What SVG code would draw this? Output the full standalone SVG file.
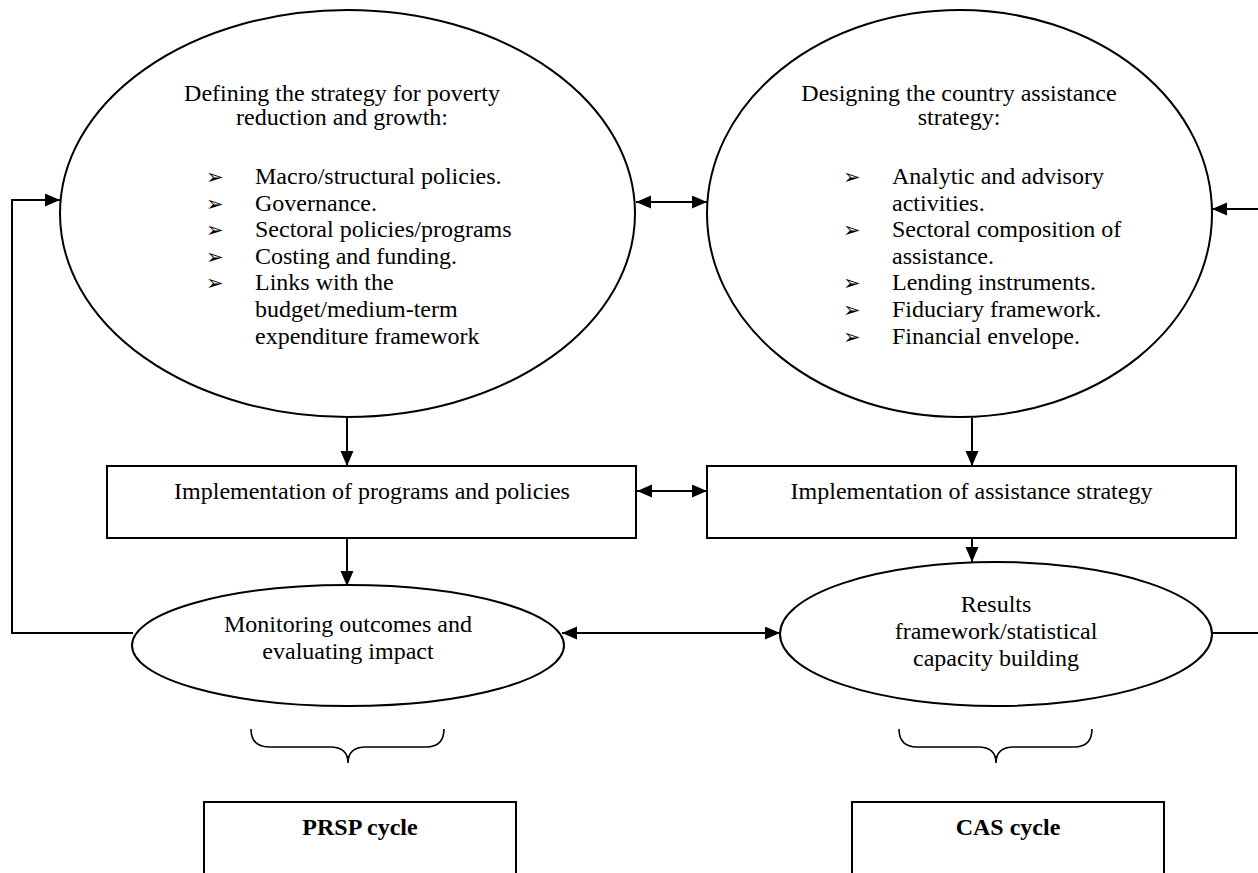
<svg xmlns="http://www.w3.org/2000/svg" width="1258" height="873" viewBox="0 0 1258 873">
<style>
.shape{fill:#fff;stroke:#000;stroke-width:2}
.ln{fill:none;stroke:#000;stroke-width:2}
.brace{fill:none;stroke:#000;stroke-width:1.6}
text{font-family:"Liberation Serif","Times New Roman",serif;font-size:24px;fill:#000}
.c{text-anchor:middle}
.b{font-weight:bold}
.bul{font-family:"DejaVu Sans",sans-serif;font-size:21px}
</style>
<defs>
<marker id="ah" markerUnits="userSpaceOnUse" markerWidth="16" markerHeight="14" refX="15" refY="6.5" orient="auto-start-reverse">
<path d="M0,0 L15,6.5 L0,13 z" fill="#000"/>
</marker>
</defs>
<rect width="1258" height="873" fill="#fff"/>

<g id="connectors">
<line class="ln" x1="636" y1="202" x2="707" y2="202" marker-start="url(#ah)" marker-end="url(#ah)"/>
<line class="ln" x1="1258" y1="209" x2="1212" y2="209" marker-end="url(#ah)"/>
<polyline class="ln" points="133,633 12,633 12,200 60,200" marker-end="url(#ah)"/>
<line class="ln" x1="347" y1="418" x2="347" y2="466" marker-end="url(#ah)"/>
<line class="ln" x1="347" y1="539" x2="347" y2="586" marker-end="url(#ah)"/>
<line class="ln" x1="972" y1="418" x2="972" y2="466" marker-end="url(#ah)"/>
<line class="ln" x1="972" y1="539" x2="972" y2="562" marker-end="url(#ah)"/>
<line class="ln" x1="637" y1="491" x2="707" y2="491" marker-start="url(#ah)" marker-end="url(#ah)"/>
<line class="ln" x1="562" y1="633" x2="780" y2="633" marker-start="url(#ah)" marker-end="url(#ah)"/>
<line class="ln" x1="1212" y1="633" x2="1258" y2="633"/>
</g>

<g id="prsp-strategy">
<ellipse class="shape" cx="347.5" cy="213.5" rx="287.5" ry="203.5"/>
<text class="c" x="342" y="101">Defining the strategy for poverty</text>
<text class="c" x="342" y="125">reduction and growth:</text>
<text x="206" y="184"><tspan class="bul">➢</tspan><tspan x="255">Macro/structural policies.</tspan></text>
<text x="206" y="210.5"><tspan class="bul">➢</tspan><tspan x="255">Governance.</tspan></text>
<text x="206" y="237"><tspan class="bul">➢</tspan><tspan x="255">Sectoral policies/programs</tspan></text>
<text x="206" y="263.5"><tspan class="bul">➢</tspan><tspan x="255">Costing and funding.</tspan></text>
<text x="206" y="290"><tspan class="bul">➢</tspan><tspan x="255">Links with the</tspan></text>
<text x="255" y="317">budget/medium-term</text>
<text x="255" y="344">expenditure framework</text>
</g>

<g id="cas-strategy">
<ellipse class="shape" cx="959.5" cy="213.5" rx="252.5" ry="203.5"/>
<text class="c" x="959" y="101">Designing the country assistance</text>
<text class="c" x="959" y="125">strategy:</text>
<text x="843" y="184"><tspan class="bul">➢</tspan><tspan x="892">Analytic and advisory</tspan></text>
<text x="892" y="210.5">activities.</text>
<text x="843" y="237"><tspan class="bul">➢</tspan><tspan x="892">Sectoral composition of</tspan></text>
<text x="892" y="263.5">assistance.</text>
<text x="843" y="290"><tspan class="bul">➢</tspan><tspan x="892">Lending instruments.</tspan></text>
<text x="843" y="317"><tspan class="bul">➢</tspan><tspan x="892">Fiduciary framework.</tspan></text>
<text x="843" y="344"><tspan class="bul">➢</tspan><tspan x="892">Financial envelope.</tspan></text>
</g>

<g id="impl-programs">
<rect class="shape" x="107" y="466" width="529" height="72"/>
<text class="c" x="372" y="499">Implementation of programs and policies</text>
</g>

<g id="impl-assistance">
<rect class="shape" x="707" y="466" width="529" height="72"/>
<text class="c" x="971.5" y="499">Implementation of assistance strategy</text>
</g>

<g id="monitoring">
<ellipse class="shape" cx="348" cy="645.5" rx="216" ry="60.5"/>
<text class="c" x="348" y="632">Monitoring outcomes and</text>
<text class="c" x="348" y="659">evaluating impact</text>
</g>

<g id="results">
<ellipse class="shape" cx="996" cy="634" rx="216" ry="72"/>
<text class="c" x="996" y="612">Results</text>
<text class="c" x="996" y="639">framework/statistical</text>
<text class="c" x="996" y="666">capacity building</text>
</g>

<g id="brace-left">
<path class="brace" d="M251,729 Q251,747 269,747 L330,747 Q348,747 348,763 Q348,747 366,747 L426,747 Q444,747 444,729"/>
</g>
<g id="brace-right">
<path class="brace" d="M899,729 Q899,747 917,747 L978,747 Q996,747 996,763 Q996,747 1014,747 L1074,747 Q1092,747 1092,729"/>
</g>

<g id="prsp-cycle">
<rect class="shape" x="204" y="802" width="312" height="100"/>
<text class="c b" x="360" y="835">PRSP cycle</text>
</g>
<g id="cas-cycle">
<rect class="shape" x="852" y="802" width="312" height="100"/>
<text class="c b" x="1008" y="835">CAS cycle</text>
</g>
</svg>
